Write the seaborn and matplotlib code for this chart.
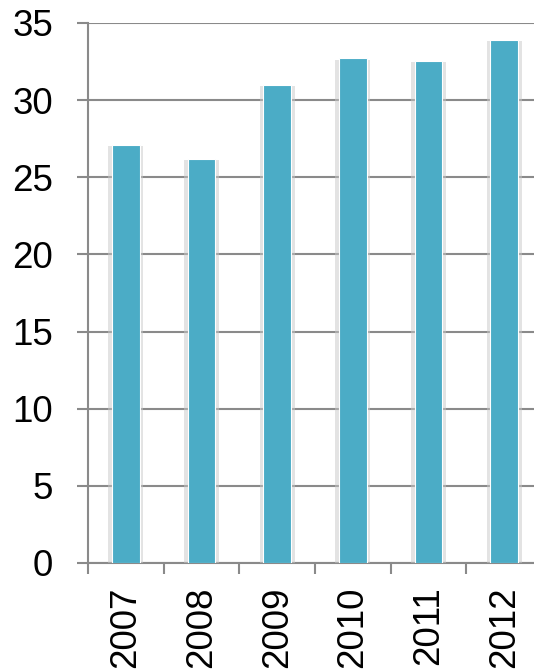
import matplotlib
matplotlib.use("Agg")
import matplotlib.pyplot as plt
import matplotlib.patheffects as pe
import seaborn as sns
import pandas as pd
import numpy as np

years = ["2007", "2008", "2009", "2010", "2011", "2012"]
values = [27.1, 26.2, 31.0, 32.7, 32.55, 33.9]
yticks = [0, 5, 10, 15, 20, 25, 30, 35]

sns.set_theme(style="white")
plt.rcParams["font.family"] = ["Liberation Sans", "DejaVu Sans"]

df = pd.DataFrame({"year": years, "value": values})

fig = plt.figure(figsize=(5.34, 6.71), dpi=100)
ax = fig.add_axes([88 / 534, 1 - 563 / 671, (542 - 88) / 534, (563 - 23) / 671])

grid_c = "#8a8a8a"
ax.set_ylim(0, 35)
ax.set_yticks(yticks)
ax.yaxis.grid(True, color=grid_c, linewidth=1.5)
ax.set_axisbelow(True)

sns.barplot(data=df, x="year", y="value", color="#4BACC6", saturation=1,
            width=0.37, ax=ax, zorder=3)
for p in ax.patches:
    p.set_edgecolor("white")
    p.set_linewidth(0.8)
    p.set_path_effects([
        pe.SimplePatchShadow(offset=(2.5, -1), shadow_rgbFace="#c8c8c8", alpha=0.5),
        pe.SimplePatchShadow(offset=(-2.5, -1), shadow_rgbFace="#c8c8c8", alpha=0.5),
        pe.Normal()])

ax.set_xlim(-0.5, len(years) - 0.5)
ax.set_xlabel("")
ax.set_ylabel("")

for s in ["top", "right"]:
    ax.spines[s].set_visible(False)
ax.spines["left"].set_color(grid_c)
ax.spines["left"].set_linewidth(1.5)
ax.spines["bottom"].set_color(grid_c)
ax.spines["bottom"].set_linewidth(1.5)

ax.tick_params(axis="y", which="major", length=8, width=1.5, color=grid_c,
               direction="out", left=True, pad=17, labelsize=26.5, labelcolor="black")
ax.set_xticks(np.arange(-0.5, len(years), 1), minor=True)
ax.tick_params(axis="x", which="minor", length=8, width=1.5, color=grid_c,
               direction="out", bottom=True)
ax.tick_params(axis="x", which="major", length=0, pad=17, labelsize=26.5,
               labelrotation=90, labelcolor="black")

fig.savefig("out.png", dpi=100)
